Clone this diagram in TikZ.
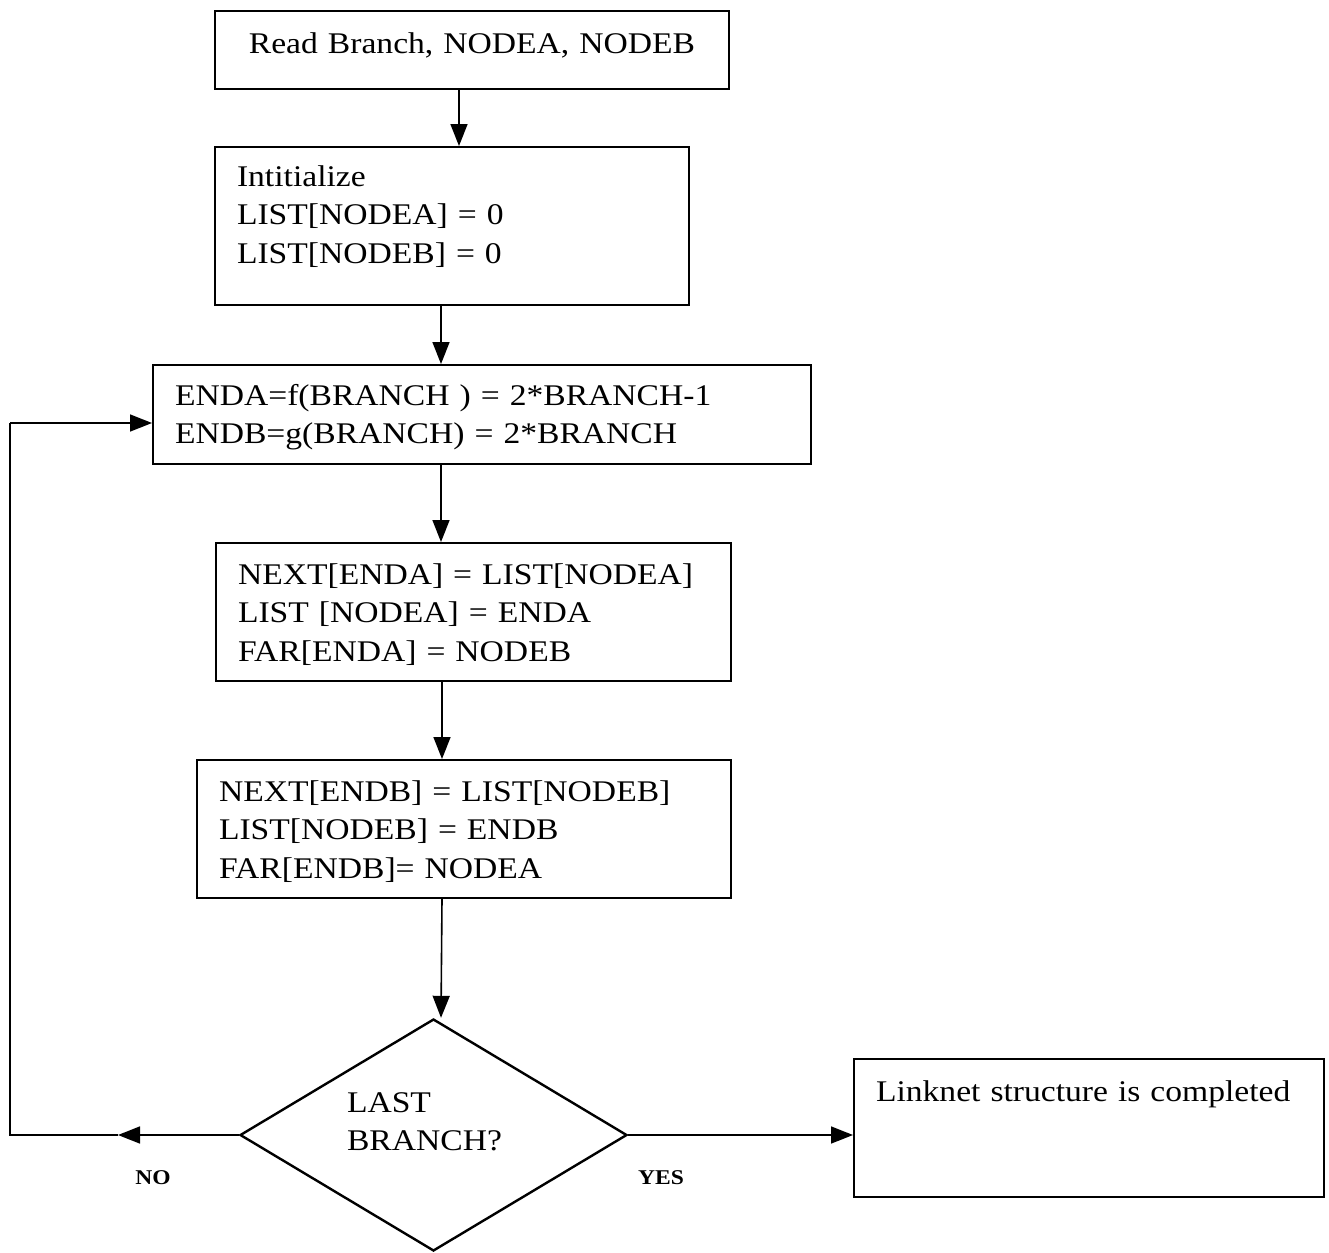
\documentclass[tikz,border=0pt]{standalone}
\usepackage{fontspec}
\setmainfont{Liberation Serif}[FakeStretch=1.12]
\usetikzlibrary{arrows.meta,shapes.geometric}
\begin{document}
\begin{tikzpicture}[x=0.5pt,y=-0.5pt,
  box/.style={draw,line width=1pt,anchor=north west,align=left,inner ysep=0pt,inner xsep=11pt,font=\fontsize{15}{19.25}\selectfont},
  decide/.style={draw,diamond,line width=1.2pt,aspect=1.65,inner sep=0pt,minimum width=193.5pt,minimum height=116pt,align=left,font=\fontsize{15}{19.25}\selectfont},
  arr/.style={line width=0.8pt,-{Triangle[length=11pt,width=8.5pt]}},
  line/.style={line width=0.8pt},
  answer/.style={font=\fontsize{10.5}{12}\selectfont\bfseries}]
\useasboundingbox (0,0) rectangle (1329,1253);
\node[box,align=center,inner xsep=0pt,text width=257pt,text height=21pt,text depth=18pt] (read) at (214,10) {Read Branch, NODEA, NODEB};
\node[box,text width=215pt,text height=19.5pt,text depth=59.5pt] (init) at (214,146) {Intitialize\\LIST[NODEA] = 0\\LIST[NODEB] = 0};
\node[box,text width=307pt,text height=20pt,text depth=29.5pt] (enda) at (152,364) {ENDA=f(BRANCH ) = 2*BRANCH-1\\ENDB=g(BRANCH) = 2*BRANCH};
\node[box,text width=235.5pt,text height=20.5pt,text depth=48.5pt] (nexta) at (215,542) {NEXT[ENDA] = LIST[NODEA]\\LIST [NODEA] = ENDA\\FAR[ENDA] = NODEB};
\node[box,text width=245pt,text height=20.5pt,text depth=48.5pt] (nextb) at (196,759) {NEXT[ENDB] = LIST[NODEB]\\LIST[NODEB] = ENDB\\FAR[ENDB]= NODEA};
\node[decide,text width=86.5pt,text height=12pt,text depth=35pt] (last) at (433.5,1135) {LAST\\BRANCH?};
\node[box,text width=213pt,text height=21pt,text depth=48pt] (link) at (853,1058) {Linknet structure is completed};
\node[answer] (nolbl) at (153,1178) {NO};
\node[answer] (yeslbl) at (661,1178) {YES};
\coordinate (noarr) at (118,1135);
\coordinate (loopb) at (10,1135);
\coordinate (loopt) at (10,423);
\draw[arr] ([xshift=-6.5pt]read.south) -- ([xshift=3.5pt]init.north);
\draw[arr] ([xshift=-5.5pt]init.south) -- ([xshift=-20.5pt]enda.north);
\draw[arr] ([xshift=-20.5pt]enda.south) -- ([xshift=-16.25pt]nexta.north);
\draw[arr] ([xshift=-15.75pt]nexta.south) -- ([xshift=-11pt]nextb.north);
\draw[arr] ([xshift=-11pt]nextb.south) -- ([xshift=3.75pt]last.north);
\draw[arr] (last.west) -- (noarr);
\draw[line] (noarr) -- (loopb) -- (loopt);
\draw[arr] (loopt) -- (loopt -| enda.west);
\draw[arr] (last.east) -- (last.east -| link.west);
\end{tikzpicture}
\end{document}
